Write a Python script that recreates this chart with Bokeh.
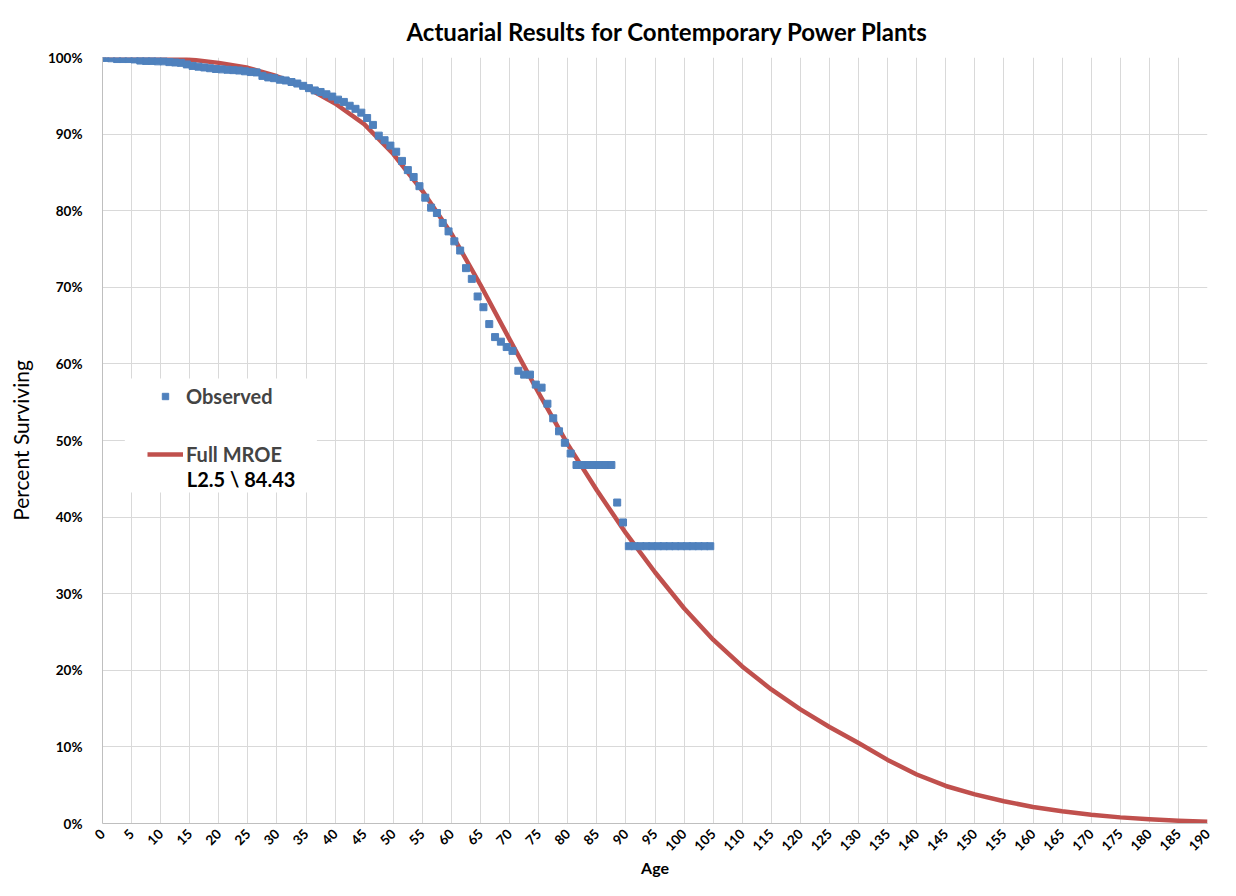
import math
from bokeh.plotting import figure
from bokeh.models import FixedTicker, Range1d, Legend, LegendItem, Label, BoxAnnotation
from bokeh.embed import file_html
from bokeh.resources import INLINE

# ---- data ----
obs_age = [0, 0.5, 1.5, 2.5, 3.5, 4.5, 5.5, 6.5, 7.5, 8.5, 9.5,
           10.5, 11.5, 12.5, 13.5, 14.5, 15.5, 16.5, 17.5, 18.5, 19.5,
           20.5, 21.5, 22.5, 23.5, 24.5, 25.5, 26.5, 27.5, 28.5, 29.5,
           30.5, 31.5, 32.5, 33.5, 34.5, 35.5, 36.5, 37.5, 38.5, 39.5,
           40.5, 41.5, 42.5, 43.5, 44.5, 45.5, 46.5, 47.5, 48.5, 49.5,
           50.5, 51.5, 52.5, 53.5, 54.5, 55.5, 56.5, 57.5, 58.5, 59.5,
           60.5, 61.5, 62.5, 63.5, 64.5, 65.5, 66.5, 67.5, 68.5, 69.5,
           70.5, 71.5, 72.5, 73.5, 74.5, 75.5, 76.5, 77.5, 78.5, 79.5,
           80.5, 81.5, 82.5, 83.5, 84.5, 85.5, 86.5, 87.5, 88.5, 89.5,
           90.5, 91.5, 92.5, 93.5, 94.5, 95.5, 96.5, 97.5, 98.5, 99.5,
           100.5, 101.5, 102.5, 103.5, 104.5]
obs_pct = [100.0, 99.95, 99.9, 99.8, 99.8, 99.8, 99.75, 99.6, 99.55, 99.55, 99.5,
           99.5, 99.4, 99.35, 99.3, 99.1, 98.9, 98.8, 98.7, 98.6, 98.5,
           98.45, 98.4, 98.35, 98.3, 98.2, 98.1, 98.05, 97.6, 97.4, 97.3,
           97.1, 97.0, 96.8, 96.6, 96.3, 96.0, 95.7, 95.5, 95.2, 94.9,
           94.5, 94.2, 93.7, 93.3, 92.8, 92.1, 91.2, 89.8, 89.2, 88.5,
           87.7, 86.5, 85.3, 84.4, 83.2, 81.7, 80.4, 79.7, 78.4, 77.3,
           76.0, 74.8, 72.5, 71.1, 68.8, 67.4, 65.2, 63.5, 62.9, 62.2,
           61.7, 59.1, 58.6, 58.6, 57.3, 56.9, 54.8, 52.9, 51.2, 49.7,
           48.3, 46.8, 46.8, 46.8, 46.8, 46.8, 46.8, 46.8, 41.9, 39.3,
           36.2, 36.2, 36.2, 36.2, 36.2, 36.2, 36.2, 36.2, 36.2, 36.2,
           36.2, 36.2, 36.2, 36.2, 36.2]

curve_age = [0, 5, 10, 15, 20, 25, 30, 35, 40, 45, 50, 55, 60, 65, 70, 75, 80,
             85, 90, 95, 100, 105, 110, 115, 120, 125, 130, 135, 140, 145,
             150, 155, 160, 165, 170, 175, 180, 185, 190]
curve_pct = [100.0, 100.0, 99.95, 99.75, 99.3, 98.65, 97.55, 96.1, 94.0, 91.3,
             87.4, 82.6, 77.0, 70.3, 63.2, 56.2, 49.5, 43.5, 37.9, 32.8, 28.1,
             24.0, 20.5, 17.5, 14.9, 12.6, 10.5, 8.3, 6.4, 4.9, 3.8, 2.9, 2.15,
             1.6, 1.15, 0.8, 0.55, 0.35, 0.22]

x_ticks = list(range(0, 195, 5))
y_ticks = [0, 10, 20, 30, 40, 50, 60, 70, 80, 90, 100]
y_tick_labels = ["0%", "10%", "20%", "30%", "40%", "50%", "60%", "70%", "80%", "90%", "100%"]

title_text = "Actuarial Results for Contemporary Power Plants"
x_title = "Age"
y_title = "Percent Surviving"
obs_name = "Observed"
fit_name = "Full MROE"
fit_sub = "L2.5 \\ 84.43"

FONT = "Lato"
BLUE = "#4F81BD"
RED = "#C0504D"
GRID = "#D9D9D9"

p = figure(width=1220, height=880, output_backend="svg", toolbar_location=None,
           x_range=Range1d(0, 190), y_range=Range1d(0, 100),
           min_border_left=102, min_border_right=13, min_border_top=57,
           min_border_bottom=57)
p.outline_line_color = None
p.background_fill_color = "white"
p.border_fill_color = "white"

p.title.text = title_text
p.title.align = "left"
p.title.offset = 304
p.title.standoff = 24
p.title.text_font = FONT
p.title.text_font_size = "24px"
p.title.text_font_style = "bold"
p.title.text_color = "black"

fit = p.line(curve_age, curve_pct, line_color=RED, line_width=4.5, line_join="round")
obs = p.scatter(obs_age, obs_pct, marker="square", size=7, fill_color=BLUE,
                line_color=BLUE)

p.xgrid.ticker = FixedTicker(ticks=x_ticks)
p.ygrid.ticker = FixedTicker(ticks=y_ticks)
p.xgrid.grid_line_color = GRID
p.ygrid.grid_line_color = GRID

xa = p.xaxis[0]
xa.ticker = FixedTicker(ticks=x_ticks)
xa.major_label_orientation = math.pi / 4
xa.major_tick_line_color = None
xa.minor_tick_line_color = None
xa.major_tick_out = 0
xa.major_tick_in = 0
xa.minor_tick_out = 0
xa.axis_line_color = "#BFBFBF"
xa.major_label_text_font = FONT
xa.major_label_text_font_style = "bold"
xa.major_label_text_font_size = "13.5px"
xa.major_label_text_color = "black"
xa.major_label_standoff = 8
xa.axis_label = x_title
xa.axis_label_text_font = FONT
xa.axis_label_text_font_style = "bold"
xa.axis_label_text_font_size = "16px"
xa.axis_label_text_color = "black"
xa.axis_label_standoff = 0

ya = p.yaxis[0]
ya.ticker = FixedTicker(ticks=y_ticks)
ya.major_label_overrides = {t: l for t, l in zip(y_ticks, y_tick_labels)}
ya.major_tick_line_color = None
ya.minor_tick_line_color = None
ya.major_tick_out = 0
ya.major_tick_in = 0
ya.minor_tick_out = 0
ya.axis_line_color = "#BFBFBF"
ya.major_label_text_font = FONT
ya.major_label_text_font_style = "bold"
ya.major_label_text_font_size = "13.5px"
ya.major_label_text_color = "black"
ya.major_label_standoff = 20
ya.axis_label = y_title
ya.axis_label_text_font = FONT
ya.axis_label_text_font_style = "normal"
ya.axis_label_text_font_size = "21px"
ya.axis_label_text_color = "black"
ya.axis_label_standoff = 12

# white backing of the legend area (hides the gridlines as in the reference)
p.add_layout(BoxAnnotation(left=3.84, right=36.87, bottom=43.2, top=58.08,
                           fill_color="white", fill_alpha=1.0, line_color=None))

legend = Legend(items=[LegendItem(label=obs_name, renderers=[obs]),
                       LegendItem(label=fit_name, renderers=[fit])],
                location=(45, 357))
legend.border_line_color = None
legend.background_fill_color = "white"
legend.background_fill_alpha = 1.0
legend.label_text_font = FONT
legend.label_text_font_style = "bold"
legend.label_text_font_size = "20px"
legend.glyph_width = 36
legend.glyph_height = 16
legend.label_height = 16
legend.label_standoff = 3
legend.padding = 8
legend.spacing = 34
legend.margin = 0
p.add_layout(legend, "center")

p.add_layout(Label(x=14.5, y=45.0, text=fit_sub, text_baseline="middle",
                   text_font=FONT, text_font_style="bold", text_font_size="20px",
                   text_color="black"))

open("out.html", "w").write(file_html(p, INLINE))
